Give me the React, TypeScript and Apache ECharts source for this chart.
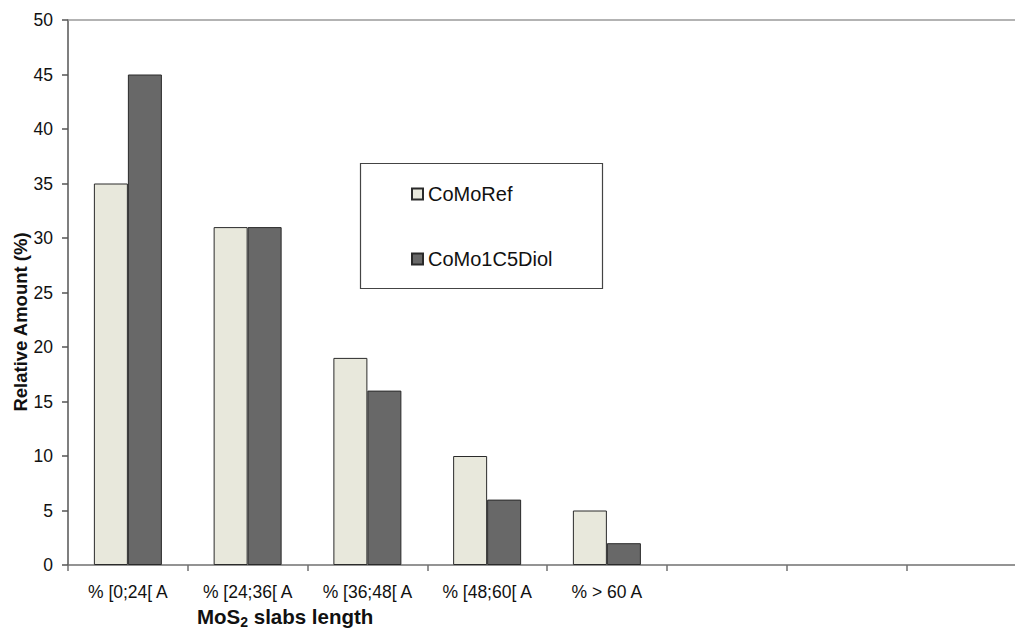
import React, { useEffect, useRef } from "react";
import * as echarts from "echarts";

const categories = ["% [0;24[ A", "% [24;36[ A", "% [36;48[ A", "% [48;60[ A", "% > 60 A", " ", "  ", "   "];
const coMoRef = [35, 31, 19, 10, 5, null, null, null];
const coMo1C5Diol = [45, 31, 16, 6, 2, null, null, null];
const seriesNames = ["CoMoRef", "CoMo1C5Diol"];

const FONT = "Liberation Sans, Arial, Helvetica, sans-serif";

export default function App() {
  const ref = useRef<HTMLDivElement>(null);
  useEffect(() => {
    if (!ref.current) return;
    const chart = echarts.init(ref.current, undefined, { renderer: "svg" });
    chart.setOption({
      animation: false,
      backgroundColor: "#ffffff",
      textStyle: { fontFamily: FONT },
      grid: { left: 68, right: 14, top: 20, bottom: 66, containLabel: false },
      legend: {
        orient: "vertical",
        left: 406,
        top: 179,
        itemWidth: 11,
        itemHeight: 11,
        itemGap: 45,
        icon: "rect",
        data: seriesNames,
        textStyle: { fontFamily: FONT, fontSize: 20, color: "#111" },
      },
      xAxis: {
        type: "category",
        data: categories,
        axisLine: { lineStyle: { color: "#707070", width: 1.5 } },
        axisTick: { show: true, length: 6, lineStyle: { color: "#707070", width: 1.5 } },
        axisLabel: { fontFamily: FONT, fontSize: 17.5, color: "#111", margin: 18, interval: 0 },
        splitLine: { show: false },
      },
      yAxis: {
        type: "value",
        min: 0,
        max: 50,
        interval: 5,
        axisLine: { show: true, lineStyle: { color: "#555", width: 1.5 } },
        axisTick: { show: true, length: 6, lineStyle: { color: "#555", width: 1.5 } },
        axisLabel: { fontFamily: FONT, fontSize: 17.5, color: "#111", margin: 15 },
        splitLine: { show: false },
      },
      graphic: [
        {
          type: "rect",
          shape: { x: 360.5, y: 163.5, width: 242, height: 125 },
          style: { fill: "none", stroke: "#444", lineWidth: 1.2 },
          z: 10,
        },
        {
          type: "text",
          x: 20,
          y: 322,
          rotation: Math.PI / 2,
          style: {
            text: "Relative Amount (%)",
            fontFamily: FONT,
            fontSize: 18.5,
            fontWeight: "bold",
            fill: "#111",
            align: "center",
            verticalAlign: "middle",
          },
        },
        {
          type: "text",
          x: 197,
          y: 616,
          style: {
            text: "{a|MoS}{s|2}{a| slabs length}",
            fontFamily: FONT,
            fill: "#111",
            verticalAlign: "middle",
            rich: {
              a: { fontFamily: FONT, fontSize: 20.5, fontWeight: "bold", fill: "#111" },
              s: { fontFamily: FONT, fontSize: 14, fontWeight: "bold", fill: "#111", padding: [11, 0, 0, 0] },
            },
          },
        },
      ],
      series: [
        {
          name: seriesNames[0],
          type: "bar",
          data: coMoRef,
          barWidth: 34,
          barGap: "0%",
          itemStyle: { color: "#e8e8dc", borderColor: "#2a2a2a", borderWidth: 1 },
          markLine: {
            silent: true,
            symbol: "none",
            label: { show: false },
            lineStyle: { color: "#9a9a9a", type: "solid", width: 1.5 },
            data: [{ yAxis: 50 }],
          },
        },
        {
          name: seriesNames[1],
          type: "bar",
          data: coMo1C5Diol,
          barWidth: 34,
          barGap: "0%",
          itemStyle: { color: "#686868", borderColor: "#2a2a2a", borderWidth: 1 },
        },
      ],
    });
    return () => chart.dispose();
  }, []);
  return (
    <div style={{ position: "fixed", left: 0, top: 0, width: 1015, height: 631, overflow: "hidden", background: "#fff" }}>
      <div ref={ref} style={{ width: 1040, height: 631 }} />
    </div>
  );
}
